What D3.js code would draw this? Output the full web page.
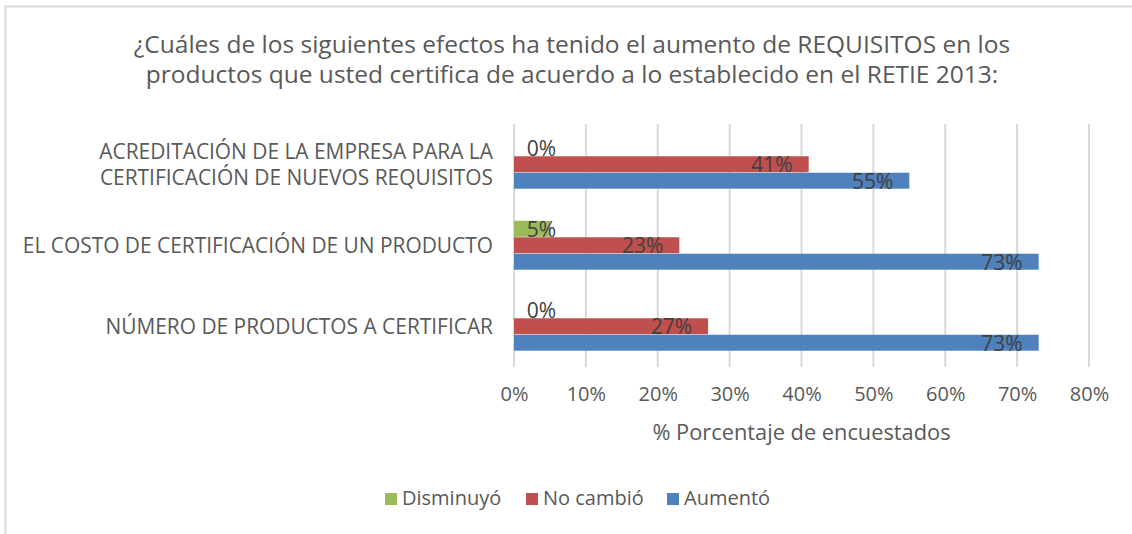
<!DOCTYPE html>
<html>
<head>
<meta charset="utf-8">
<script src="https://cdn.jsdelivr.net/npm/d3@7"></script>
<style>
  html, body { margin: 0; padding: 0; background: #ffffff; }
  svg { display: block; font-family: "Open Sans", sans-serif; }
</style>
</head>
<body>
<svg id="chart" width="1132" height="534"></svg>
<script>
// ---- data ----
const titleLines = [
  "¿Cuáles de los siguientes efectos ha tenido el aumento de REQUISITOS en los",
  "productos que usted certifica de acuerdo a lo establecido en el RETIE 2013:"
];
const categories = [
  "ACREDITACIÓN DE LA EMPRESA PARA LA|CERTIFICACIÓN DE NUEVOS REQUISITOS",
  "EL COSTO DE CERTIFICACIÓN DE UN PRODUCTO",
  "NÚMERO DE PRODUCTOS A CERTIFICAR"
];
const seriesNames = ["Disminuyó", "No cambió", "Aumentó"];
const disminuyo = [0.00, 0.05, 0.00];
const noCambio  = [0.41, 0.23, 0.27];
const aumento   = [0.55, 0.73, 0.73];
const xTicks = [0, 0.1, 0.2, 0.3, 0.4, 0.5, 0.6, 0.7, 0.8];
const xAxisTitle = "% Porcentaje de encuestados";
const colors = ["#9bbb59", "#c0504d", "#4f81bd"];

const seriesValues = [disminuyo, noCambio, aumento];

const svg = d3.select("#chart");

// outer border (cropped chart frame)
svg.append("path")
  .attr("d", "M5.5,540 L5.5,6.5 L1140,6.5")
  .attr("fill", "none")
  .attr("stroke", "#d9d9d9")
  .attr("stroke-width", 2);

// title
svg.append("g").selectAll("text").data(titleLines).join("text")
  .attr("x", 572)
  .attr("y", (d, i) => 53 + i * 30)
  .attr("text-anchor", "middle")
  .attr("font-size", 24.5)
  .attr("fill", "#595959")
  .text(d => d);

// scales
const x = d3.scaleLinear().domain([0, 0.8]).range([514, 1089]);
const y0 = d3.scaleBand().domain(categories).range([124, 367])
  .paddingInner(0.39).paddingOuter(0.195);
const y1 = d3.scaleBand().domain(seriesNames).range([0, y0.bandwidth()]);

// gridlines
svg.append("g").selectAll("line").data(xTicks).join("line")
  .attr("x1", d => x(d)).attr("x2", d => x(d))
  .attr("y1", 124).attr("y2", 367)
  .attr("stroke", "#d9d9d9")
  .attr("stroke-width", 2);

// tick labels via axis
const xAxis = d3.axisBottom(x).tickValues(xTicks).tickFormat(d3.format(".0%")).tickSize(0).tickPadding(0);
const gx = svg.append("g").attr("transform", "translate(0,386)").call(xAxis);
gx.select(".domain").remove();
gx.selectAll("text")
  .attr("dy", null)
  .attr("y", 15)
  .attr("font-family", "Open Sans, sans-serif")
  .attr("font-size", 20)
  .attr("fill", "#595959");

// axis title
svg.append("text")
  .attr("x", x(0.4))
  .attr("y", 440)
  .attr("text-anchor", "middle")
  .attr("font-size", 21.8)
  .attr("fill", "#595959")
  .text(xAxisTitle);

// category labels
const catG = svg.append("g");
categories.forEach(c => {
  const lines = c.split("|");
  const cy = y0(c) + y0.bandwidth() / 2;
  lines.forEach((ln, i) => {
    catG.append("text")
      .attr("x", 493)
      .attr("y", cy + 7 + (i - (lines.length - 1) / 2) * 26)
      .attr("text-anchor", "end")
      .attr("font-size", 20.9)
      .attr("fill", "#595959")
      .text(ln);
  });
});

// bars
const rows = [];
categories.forEach((c, ci) => {
  seriesNames.forEach((s, si) => {
    rows.push({ cat: c, series: s, value: seriesValues[si][ci], color: colors[si] });
  });
});

const barG = svg.append("g");
barG.selectAll("rect").data(rows).join("rect")
  .attr("x", x(0))
  .attr("y", d => y0(d.cat) + y1(d.series))
  .attr("width", d => x(d.value) - x(0))
  .attr("height", y1.bandwidth() - 0.5)
  .attr("fill", d => d.color);

// data labels
barG.selectAll("text").data(rows).join("text")
  .attr("x", d => Math.max(x(d.value) - 16, x(0) + 42))
  .attr("y", d => y0(d.cat) + y1(d.series) + y1.bandwidth() - 0.5)
  .attr("text-anchor", "end")
  .attr("font-size", 21)
  .attr("fill", "#404040")
  .text(d => Math.round(d.value * 100) + "%");

// legend
const legendItems = [
  { name: seriesNames[0], color: colors[0], x: 385 },
  { name: seriesNames[1], color: colors[1], x: 526 },
  { name: seriesNames[2], color: colors[2], x: 667 }
];
const lg = svg.append("g").selectAll("g").data(legendItems).join("g")
  .attr("transform", d => `translate(${d.x},493)`);
lg.append("rect").attr("width", 12).attr("height", 12).attr("fill", d => d.color);
lg.append("text")
  .attr("x", 17).attr("y", 12)
  .attr("font-size", 20)
  .attr("fill", "#595959")
  .text(d => d.name);
</script>
</body>
</html>
